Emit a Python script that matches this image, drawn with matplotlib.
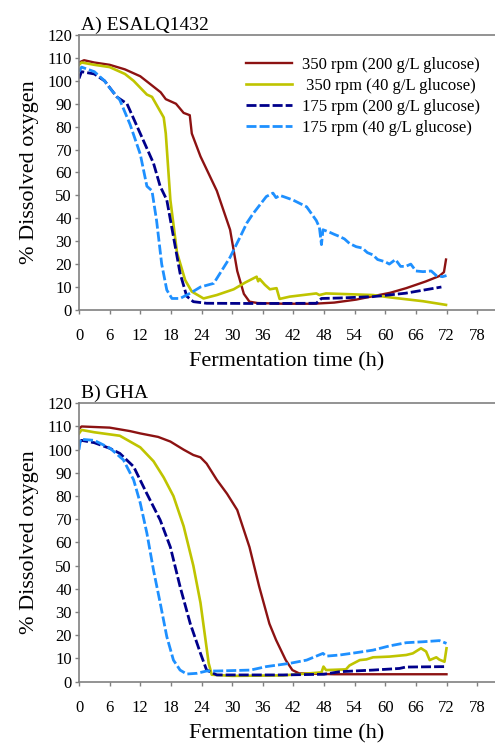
import matplotlib
matplotlib.use("Agg")
import matplotlib.pyplot as plt

plt.rcParams['font.family'] = 'serif'
plt.rcParams['font.serif'] = ['Liberation Serif', 'DejaVu Serif']

# ---- panel A: ESALQ1432 ----
red_A_t = [0, 1, 3, 6, 9, 12, 14, 16, 17, 19, 20.5, 21.7, 22.1, 23.8, 27, 29.6, 31, 32.3, 33.4, 35, 40, 46, 50,
           54.3, 57.6, 61, 64.1, 67.9, 70.6, 71.5, 71.9]
red_A = [108, 109, 108, 107, 105, 102, 98.5, 95, 92, 90, 86, 85, 77, 67, 52, 35, 17, 7, 3.6, 3, 2.7, 2.7, 3.2,
         4.5, 6, 7.5, 9.5, 12.4, 14.8, 16.5, 22]

yellow_A_t = [0, 0.5, 3, 6, 9, 10.7, 13.3, 14.3, 16.6, 17, 17.9, 19.2, 20.8, 22.1, 24.4, 27, 30.3, 32.6, 34.8,
              35.1, 35.4, 36.4, 37.4, 38.7, 39.3, 41.3, 46.5, 47.1, 48.4, 57.6, 60.8, 67.4, 71.9]
yellow_A = [107, 108, 107, 106, 103, 100, 94, 93, 84, 77, 48, 25, 13, 8, 5, 6.5, 9, 12, 14.5,
            12.5, 13.5, 11, 9, 9.5, 4.8, 5.8, 7.2, 6.5, 7.2, 6.5, 5.5, 3.8, 2.2]

navy_A_t = [0, 0.5, 3, 5, 7.4, 9.4, 12, 14.6, 15.9, 17.2, 18.5, 19.8, 21.1, 22.4, 25, 35, 46.5, 47.5, 51, 57.6,
            64, 71]
navy_A = [101, 104, 103, 100, 93, 90, 77, 64, 54, 48, 32, 16, 6, 3.6, 2.9, 2.8, 2.9, 5, 5.2, 5.8, 7.3, 10]

blue_A_t = [0, 0.5, 3, 5, 6.1, 8, 10, 12, 13.3, 14.3, 15.2, 16.2, 17.2, 18.2, 19.8, 21.8, 23.8, 26.4, 29.6, 31.6,
            32.9, 34.1, 36.7, 38, 38.6, 39.3, 40, 41.9, 44.6, 46.5, 47.1, 47.5, 47.8, 49, 50, 51.1, 52, 53, 54.3,
            55.5, 56.5, 57.6, 58.5, 60, 60.8, 62, 63, 64, 65, 66, 67.4, 69, 70, 71.2, 72]
blue_A = [104, 106, 104, 100, 96.7, 91.6, 81, 68, 54, 52, 39, 20, 8.7, 5, 5, 7.3, 10, 11.6, 23, 32,
          38, 42, 49.5, 51, 49, 50, 49.5, 48, 45, 39, 36, 28.5, 35, 34, 33, 32, 31, 29, 27.6,
          27, 25, 24, 22, 21, 20, 22, 19, 19, 20, 17, 16.7, 17, 15, 14.5, 15]

# ---- panel B: GHA ----
red_B_t = [0, 0.5, 6, 10, 12, 15.5, 17.9, 20.5, 22.4, 23.8, 25, 27, 29, 31, 33.4, 35.3, 37.3, 38.6, 40.5, 41.8,
           43.1, 50, 60, 72]
red_B = [109, 110, 109.5, 108, 107, 105.5, 103.5, 100, 97.7, 96.7, 94, 87, 81, 74, 58, 41, 25, 18, 9.3, 5,
         3.6, 3.2, 3.2, 3.2]

yellow_B_t = [0, 0.5, 3, 8, 12, 14.6, 16.6, 18.5, 20.5, 22.4, 23.8, 24.7, 25.4, 26, 30, 40, 47.5, 47.9, 48.4,
              52.3, 53, 55, 56.3, 57.6, 60.8, 64.1, 65.4, 67, 68, 68.7, 70, 70.6, 71.6, 72]
yellow_B = [107, 108.5, 107.5, 106, 101, 95, 88, 80, 67, 50, 34, 19.4, 8, 3, 2.5, 2.7, 4, 6.5, 5,
            5.3, 7, 9.3, 9.6, 10.5, 10.8, 11.5, 12.2, 14.4, 13, 9.3, 10.5, 9.5, 8.6, 14.4]

navy_B_t = [0, 0.5, 3, 6, 8, 10.7, 13.3, 15.9, 17.9, 19.8, 21.8, 23.8, 25, 27, 40, 48, 51.1, 57.6, 62.8, 64, 72]
navy_B = [103, 104, 103, 100.6, 98.4, 92.7, 81, 69.7, 58, 41, 25, 12.2, 5, 2.9, 2.9, 3.2, 4.3, 5, 5.7, 6.3, 6.5]

blue_B_t = [0, 0.3, 3, 6.1, 8.7, 10.7, 12, 13.3, 14.6, 15.9, 17.2, 18.5, 19.8, 21.1, 23.1, 25, 27, 33.6, 36.7,
            41.3, 44.6, 47.8, 48.4, 51.1, 54.3, 57.6, 60.8, 64.1, 67.4, 70.6, 72]
blue_B = [100, 104.5, 104, 100.6, 95.6, 87, 77, 64, 48, 34, 19.4, 9.3, 5, 3.3, 3.6, 4.6, 4.6, 5, 6.5,
          7.9, 9.3, 12.2, 11, 11.5, 12.5, 13.6, 15.4, 16.8, 17.2, 17.7, 16.5]

labels = ['350 rpm (200 g/L glucose)', ' 350 rpm (40 g/L glucose)',
          '175 rpm (200 g/L glucose)', '175 rpm (40 g/L glucose)']
xticks = list(range(0, 79, 6))
yticks = list(range(0, 121, 10))

c_red = '#8C1212'
c_yel = '#BFC400'
c_navy = '#00008B'
c_blue = '#1E90FF'

fig = plt.figure(figsize=(4.95, 7.45), dpi=100)
axA = fig.add_axes([0.1596, 0.584, 0.8404, 0.369])
axB = fig.add_axes([0.1596, 0.085, 0.8404, 0.3737])

panels = [
    (axA, 'A) ESALQ1432', [(red_A_t, red_A), (yellow_A_t, yellow_A), (navy_A_t, navy_A), (blue_A_t, blue_A)]),
    (axB, 'B) GHA', [(red_B_t, red_B), (yellow_B_t, yellow_B), (navy_B_t, navy_B), (blue_B_t, blue_B)]),
]

for ax, title, series in panels:
    (t1, y1), (t2, y2), (t3, y3), (t4, y4) = series
    ax.plot(t1, y1, color=c_red, lw=1.7, label=labels[0])
    ax.plot(t2, y2, color=c_yel, lw=1.9, label=labels[1])
    ax.plot(t3, y3, color=c_navy, lw=2.0, ls=(0, (3.6, 1.1)), label=labels[2])
    ax.plot(t4, y4, color=c_blue, lw=2.0, ls=(0, (3.6, 1.1)), label=labels[3])
    ax.set_xlim(0, 81.5)
    ax.set_ylim(0, 120)
    ax.set_xticks(xticks)
    ax.set_yticks(yticks)
    ax.tick_params(labelsize=12, length=3, width=1, color='#808080', direction='out')
    ax.tick_params(axis='x', pad=10)
    ax.tick_params(axis='y', pad=2)
    for s in ['left', 'bottom', 'top']:
        ax.spines[s].set_color('#808080')
        ax.spines[s].set_linewidth(1.2)
    ax.spines['right'].set_visible(False)
    ax.set_xlabel('Fermentation time (h)', fontsize=16, labelpad=6)
    ax.set_ylabel('% Dissolved oxygen', fontsize=16, labelpad=6)
    ax.text(0.004, 1.005, title, transform=ax.transAxes, fontsize=14, ha='left', va='bottom')

axA.legend(loc='upper left', bbox_to_anchor=(0.3846, 0.945), frameon=False, fontsize=12,
           handlelength=2.8, handletextpad=0.6, labelspacing=0.3, borderaxespad=0)

fig.savefig('out.png', dpi=100)
